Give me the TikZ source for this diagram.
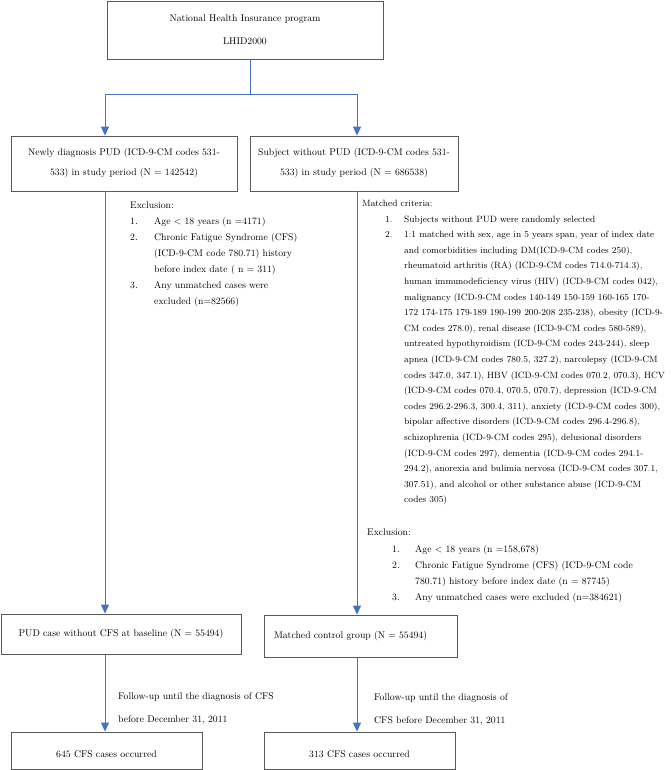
\documentclass[tikz,border=0pt]{standalone}
\usepackage{fontspec}
\usepackage{tikz}
\usetikzlibrary{arrows.meta}

\definecolor{linkblue}{RGB}{68,114,196}

\begin{document}
\begin{tikzpicture}[x=1pt, y=-1pt,
		font=\fontsize{9.7}{15.6}\selectfont,
		box/.style={draw=black!65, line width=0.8pt, align=center, inner sep=0pt},
		lowtext/.style={execute at begin node=\rule{0pt}{15pt}},
		list/.style={anchor=north west, align=left, inner sep=0pt},
		link/.style={draw=linkblue, line width=0.9pt},
		arrow/.style={link, -{Triangle[length=9pt, width=8pt]}}]
			\useasboundingbox (0,0) rectangle (670,770);
			
			\coordinate (split) at (250,94);
			\coordinate (lcol) at (105,0);
			\coordinate (rcol) at (357,0);
			
			% boxes
			\node (nhi) [box, lowtext, minimum width=276pt, minimum height=58pt] at (245,30){National Health Insurance program\\[7.4pt] LHID2000};
			\node (newpud) [box, lowtext, minimum width=226pt, minimum height=55pt] at (124,163.5){Newly diagnosis PUD (ICD-9-CM codes 531-\\[4.4pt] 533) in study period (N = 142542)};
			\node (nopud) [box, lowtext, minimum width=208pt, minimum height=55pt] at (354,163.5){Subject without PUD (ICD-9-CM codes 531-\\[4.4pt] 533) in study period (N = 686538)};
			\node (pudbase) [box, minimum width=240pt, minimum height=40pt] at (121,634){PUD case without CFS at baseline (N = 55494)};
			\node (matched) [box, minimum width=193pt, minimum height=42pt, text width=173pt, align=left] at (360.5,636){Matched control group (N = 55494)};
			\node (pudcfs) [box, lowtext, minimum width=191pt, minimum height=37pt] at (106.5,750.5){645 CFS cases occurred};
			\node (ctrlcfs) [box, lowtext, minimum width=191pt, minimum height=37pt] at (359.5,750.5){313 CFS cases occurred};
			
			% texts beside the lines
			\node (pudexcl) [list, font=\fontsize{9.7}{16}\selectfont] at (130,202){Exclusion:\\
				\makebox[24pt][l]{1.}Age < 18 years (n =4171)\\
				\makebox[24pt][l]{2.}Chronic Fatigue Syndrome (CFS)\\
				\hspace*{24pt}(ICD-9-CM code 780.71) history\\
				\hspace*{24pt}before index date ( n = 311)\\
				\makebox[24pt][l]{3.}Any unmatched cases were\\
				\hspace*{24pt}excluded (n=82566)};
			\node (matchcrit) [list, font=\fontsize{9.1}{15.6}\selectfont] at (362,200){Matched criteria:\\
				\hspace*{23pt}\makebox[19pt][l]{1.}Subjects without PUD were randomly selected\\
				\hspace*{23pt}\makebox[19pt][l]{2.}1:1 matched with sex, age in 5 years span, year of index date\\
				\hspace*{42pt}and comorbidities including DM(ICD-9-CM codes 250),\\
				\hspace*{42pt}rheumatoid arthritis (RA) (ICD-9-CM codes 714.0-714.3),\\
				\hspace*{42pt}human immunodeficiency virus (HIV) (ICD-9-CM codes 042),\\
				\hspace*{42pt}malignancy (ICD-9-CM codes 140-149 150-159 160-165 170-\\
				\hspace*{42pt}172 174-175 179-189 190-199 200-208 235-238), obesity (ICD-9-\\
				\hspace*{42pt}CM codes 278.0), renal disease (ICD-9-CM codes 580-589),\\
				\hspace*{42pt}untreated hypothyroidism (ICD-9-CM codes 243-244), sleep\\
				\hspace*{42pt}apnea (ICD-9-CM codes 780.5, 327.2), narcolepsy (ICD-9-CM\\
				\hspace*{42pt}codes 347.0, 347.1), HBV (ICD-9-CM codes 070.2, 070.3), HCV\\
				\hspace*{42pt}(ICD-9-CM codes 070.4, 070.5, 070.7), depression (ICD-9-CM\\
				\hspace*{42pt}codes 296.2-296.3, 300.4, 311), anxiety (ICD-9-CM codes 300),\\
				\hspace*{42pt}bipolar affective disorders (ICD-9-CM codes 296.4-296.8),\\
				\hspace*{42pt}schizophrenia (ICD-9-CM codes 295), delusional disorders\\
				\hspace*{42pt}(ICD-9-CM codes 297), dementia (ICD-9-CM codes 294.1-\\
				\hspace*{42pt}294.2), anorexia and bulimia nervosa (ICD-9-CM codes 307.1,\\
				\hspace*{42pt}307.51), and alcohol or other substance abuse (ICD-9-CM\\
				\hspace*{42pt}codes 305)};
			\node (ctrlexcl) [list, font=\fontsize{9.7}{16.2}\selectfont] at (367,529){Exclusion:\\
				\hspace*{25pt}\makebox[23pt][l]{1.}Age < 18 years (n =158,678)\\
				\hspace*{25pt}\makebox[23pt][l]{2.}Chronic Fatigue Syndrome (CFS) (ICD-9-CM code\\
				\hspace*{48pt}780.71) history before index date (n = 87745)\\
				\hspace*{25pt}\makebox[23pt][l]{3.}Any unmatched cases were excluded (n=384621)};
			\node (pudfollow) [list] at (118,692){Follow-up until the diagnosis of CFS\\[7.4pt] before December 31, 2011};
			\node (ctrlfollow) [list] at (374,693){Follow-up until the diagnosis of\\[7.4pt] CFS before December 31, 2011};
			
			% connectors
			\draw[link] (nhi.south -| split) -- (split);
			\draw[arrow] (split) -| (newpud.north -| lcol);
			\draw[arrow] (split) -| (nopud.north -| rcol);
			\draw[arrow] (newpud.south -| lcol) -- (pudbase.north -| lcol);
			\draw[arrow] (nopud.south -| rcol) -- (matched.north -| rcol);
			\draw[arrow] (pudbase.south -| lcol) -- (pudcfs.north -| lcol);
			\draw[arrow] (matched.south -| rcol) -- (ctrlcfs.north -| rcol);
			
		\end{tikzpicture}
\end{document}
